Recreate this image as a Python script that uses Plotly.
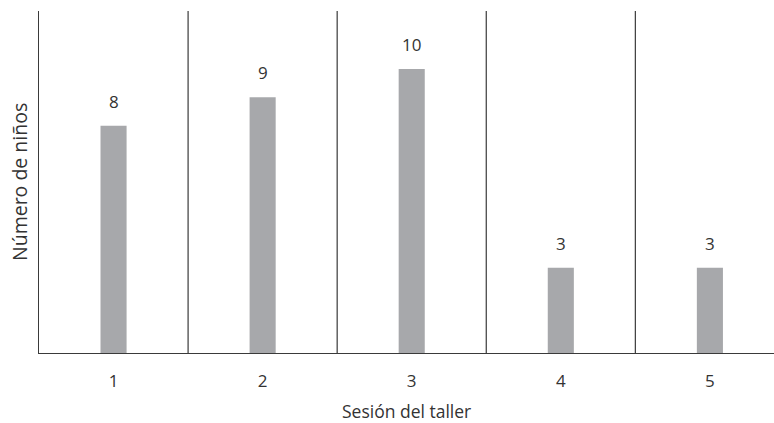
import plotly.graph_objects as go

sessions = [1, 2, 3, 4, 5]
ninos = [8, 9, 10, 3, 3]
tick_labels = ["1", "2", "3", "4", "5"]

FONT = "Open Sans"
LINE = "#3a3a3a"
BAR = "#a7a8ab"

fig = go.Figure()
fig.add_trace(go.Bar(x=sessions, y=ninos, width=0.175, marker=dict(color=BAR, line=dict(width=0)),
                     showlegend=False, hoverinfo="skip"))

for s, v in zip(sessions, ninos):
    fig.add_annotation(x=s, y=v, text=str(v), showarrow=False, yanchor="bottom", yshift=11,
                       font=dict(family=FONT, size=17, color="#333333"))

# category separators
for s in sessions[:-1]:
    fig.add_shape(type="line", xref="x", yref="paper", x0=s + 0.5, x1=s + 0.5, y0=0, y1=1,
                  line=dict(color=LINE, width=1.2))

fig.add_annotation(xref="paper", yref="paper", x=0.5, y=0, yshift=-58, yanchor="middle",
                   text="Sesión del taller", showarrow=False,
                   font=dict(family=FONT, size=17.5, color="#333333"))
fig.add_annotation(xref="paper", yref="paper", x=0, xshift=-20, y=0.5, textangle=-90,
                   xanchor="center", yanchor="middle",
                   text="Número de niños", showarrow=False,
                   font=dict(family=FONT, size=19.5, color="#333333"))

fig.update_layout(
    width=774, height=423,
    margin=dict(l=39, r=0, t=11, b=70),
    paper_bgcolor="white", plot_bgcolor="white",
    xaxis=dict(range=[0.5, 5.43], tickvals=sessions, ticktext=tick_labels,
               showgrid=False, zeroline=False, showline=True, linecolor=LINE, linewidth=1.2,
               ticks="outside", ticklen=12, tickcolor="rgba(0,0,0,0)",
               tickfont=dict(family=FONT, size=17, color="#333333"), fixedrange=True),
    yaxis=dict(range=[0, 12.04], showticklabels=False, showgrid=False, zeroline=False,
               showline=True, linecolor=LINE, linewidth=1.2, ticks="", fixedrange=True),
)

fig.write_html("out.html")
